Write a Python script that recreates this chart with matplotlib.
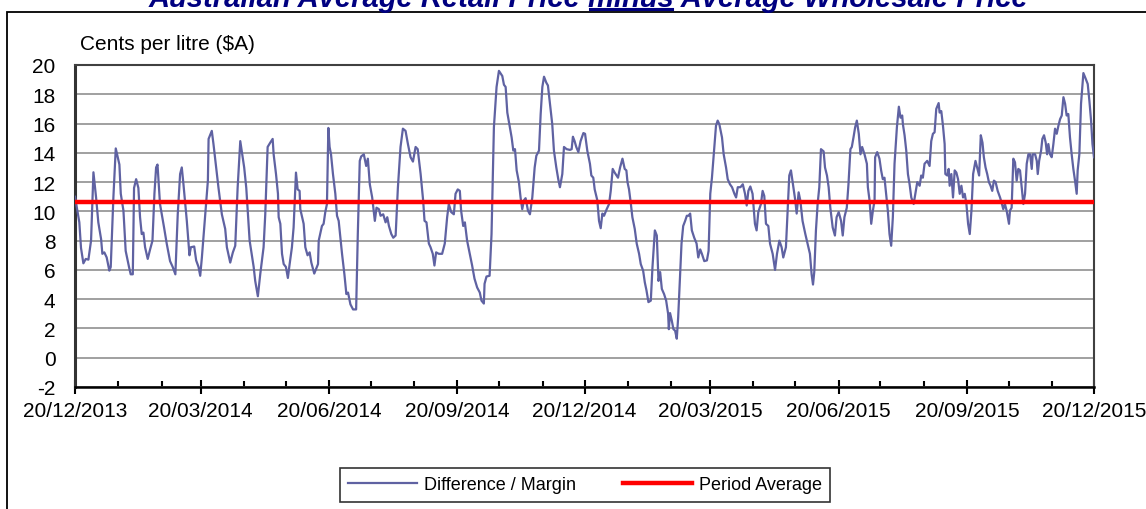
import numpy as np
import matplotlib
matplotlib.use("Agg")
import matplotlib.pyplot as plt
import matplotlib.dates as mdates
from matplotlib.lines import Line2D
from matplotlib.patches import Rectangle
import datetime as dt

plt.rcParams['font.family'] = ['Liberation Sans', 'DejaVu Sans']
plt.rcParams['axes.unicode_minus'] = False

# ---------------- data ----------------
start_date = "2013-12-20"
end_date = "2015-12-20"
day_offset = [
    0, 3.1, 4.3, 6.0, 7.7, 9.6, 11.5, 13.2, 15.1, 16.7, 18.7, 19.6, 21.0, 22.7, 24.6, 25.6, 27.5, 29.2,
    31.8, 32.8, 34.7, 36.3, 38.7, 39.9, 41.4, 42.3, 43.8, 45.4, 46.6, 47.8, 49.0, 50.2, 52.1, 53.8,
    55.5, 56.9, 58.1, 59.1, 60.9, 63.8, 65.7, 68.1, 70.0, 71.9, 73.6, 75.3, 76.5, 77.7, 80.1, 82.0,
    83.0, 85.4, 86.8, 88.5, 89.7, 90.9, 93.3, 95.2, 95.7, 98.0, 99.2, 100.9, 102.8, 105.2, 107.6,
    108.8, 111.2, 113.1, 114.8, 116.5, 118.4,
    121.2, 122.7, 125.1, 128.0, 129.1, 131.0, 132.7, 135.1, 136.3, 138.0, 139.9, 141.6, 142.3, 144.0,
    145.4, 145.9, 147.1, 148.3, 149.5, 151.1, 152.5, 153.7, 155.4, 156.6, 158.3, 159.5, 160.9, 161.4,
    163.8, 165.0, 166.6, 168.1, 169.3, 171.4, 174.1, 174.6, 176.9, 178.1, 179.3, 180.5, 181.5, 182.4,
    183.4, 184.8, 186.5, 187.7, 188.9, 191.3, 193.0, 194.4, 195.6, 197.3, 199.2, 201.4, 202.6, 204.0,
    205.0, 206.9, 208.6, 209.8, 211.2, 212.9, 214.8, 216.0, 217.7, 218.9, 220.8, 222.5, 223.7, 224.9,
    226.6, 228.0, 229.7, 231.3, 233.2, 234.9, 236.8, 238.5, 240.4, 242.1, 244.0, 245.5, 247.6,
    249.4, 250.4, 251.8, 253.5, 254.7, 256.3, 257.5, 258.7, 260.6, 263.0, 264.9, 266.6, 267.8, 269.5,
    271.4, 272.6, 274.2, 275.7, 276.6, 278.1, 279.3, 280.9, 282.8, 284.5, 286.2, 288.1, 290.0, 291.2,
    292.9, 293.4, 294.8, 297.0, 298.4, 300.1, 302.0, 303.7, 306.1, 307.3, 308.5, 309.7, 311.3, 312.8,
    314.0, 315.2, 316.4, 318.0, 319.2, 320.4, 321.6, 322.8, 324.5, 325.9, 327.6, 329.3, 330.5, 332.4,
    333.6, 334.8, 336.0, 337.6, 338.8, 340.3, 341.9, 343.1, 344.8, 346.2, 347.4, 349.1, 350.3, 352.2,
    354.6, 355.8, 356.7, 357.9, 359.1, 360.6, 362.2, 364.2, 365.4,
    367.0, 368.9, 369.9, 371.3, 372.3, 374.2, 375.4, 376.6, 377.8, 379.0, 380.9, 382.6, 383.8, 385.2,
    386.6, 389.0, 390.5, 392.2, 393.8, 395.0, 395.8, 396.9, 398.1, 399.3, 401.0, 402.4, 404.1, 405.3,
    407.0, 408.2, 409.4, 410.8, 412.5, 413.7, 415.4, 416.8, 418.0, 419.2, 420.4, 422.0, 423.5, 424.9,
    425.4, 426.3, 427.5, 428.7, 429.9, 431.1, 432.1, 433.3, 434.5, 435.7, 437.1, 438.3, 439.5, 440.7,
    441.9, 443.6, 445.3, 446.5, 447.9, 449.1, 450.8, 452.7, 453.9, 455.1, 456.3, 458.0, 459.2, 460.4,
    461.6, 463.5, 464.7, 466.4, 467.6, 469.2, 470.7, 472.4, 473.6, 474.8, 476.7, 478.4, 480.0, 481.2,
    482.4, 483.8,
    485.4, 487.1, 488.3, 489.5, 491.4, 492.6, 493.8, 495.0, 496.7, 497.9, 499.8, 501.5, 502.9, 504.6,
    506.2, 507.4, 509.3, 510.5, 511.7, 512.9, 514.6, 516.0, 517.0, 518.4, 519.6, 521.2, 523.2, 524.8,
    526.5, 527.7, 528.7, 529.6, 530.8, 532.0, 533.2, 534.4, 536.3, 537.3, 538.7, 539.9, 541.1, 542.8,
    544.4, 545.6, 547.1, 548.8, 550.0, 551.2, 552.9, 554.1, 555.5, 556.5, 557.7, 558.9, 560.1, 561.5,
    562.7, 563.9, 565.6, 567.3, 568.0, 569.2, 570.4, 571.6, 572.8, 573.2, 574.7, 576.3, 577.5, 578.7,
    579.9, 581.1, 582.3, 583.5, 584.7, 585.9, 587.1, 588.8, 590.2, 591.4, 592.6, 593.1, 594.3, 595.5,
    596.7, 597.9, 599.1, 600.8, 602.0, 603.4, 605.1,
    606.2, 607.4, 608.6, 610.5, 612.2, 613.4, 614.6, 615.8, 617.0, 618.7, 619.4, 620.6, 621.8, 623.0,
    623.5, 624.9, 625.9, 626.6, 627.8, 629.0, 630.2, 631.4, 632.6, 633.8, 635.0, 636.2, 637.4, 638.6,
    639.8, 641.0, 642.2, 643.4, 645.1, 646.5, 647.7, 648.9, 650.1, 651.1, 652.3, 653.5, 654.7, 655.9,
    657.1, 658.3, 659.5, 661.0, 662.7, 663.8, 665.0, 666.2, 667.4, 669.1, 669.8, 671.0, 672.2, 673.4,
    674.6, 675.8, 677.0, 678.2, 679.4, 680.6, 681.8, 683.0, 684.2, 685.4, 686.1, 687.8, 689.0, 689.7,
    690.7, 692.1, 693.0, 694.2, 695.4, 696.4, 697.3, 698.5, 699.7, 700.9, 702.1, 703.3, 704.5, 705.7,
    706.9, 708.1, 709.3, 710.4, 711.6, 712.8, 714.0, 715.2, 716.4, 717.6, 718.3, 719.5, 720.7, 722.4,
    724.1, 725.5, 726.7, 727.9, 728.9, 730.0,
]
margin = [
    11.0, 9.25, 7.5, 6.45, 6.75, 6.7, 8.0, 12.67, 10.95, 9.25, 8.1, 7.1, 7.2, 6.85, 5.95, 6.2, 10.95, 14.3,
    13.2, 11.2, 10.05, 7.3, 6.2, 5.7, 5.7, 11.6, 12.2, 11.6, 9.6, 8.45, 8.55, 7.55, 6.75, 7.4,
    8.0, 11.2, 13.0, 13.2, 10.5, 8.9, 7.8, 6.6, 6.2, 5.7, 9.8, 12.55, 13.0, 11.85, 9.35, 7.0,
    7.55, 7.6, 6.65, 6.2, 5.6, 6.85, 9.8, 12.1, 14.95, 15.5, 14.6, 13.2, 11.6, 9.8, 8.8,
    7.55, 6.5, 7.2, 7.65, 11.6, 14.8,
    13.0, 11.6, 8.0, 6.2, 5.25, 4.2, 5.7, 7.55, 9.8, 14.4, 14.7, 14.95, 13.9, 12.55,
    11.2, 9.6, 9.15, 7.1, 6.4, 6.2, 5.45, 6.35, 7.55, 8.9, 12.65, 11.5, 11.4, 10.15,
    9.15, 7.55, 7.0, 7.2, 6.5, 5.75, 6.4, 8.0, 9.0, 9.15, 9.95, 10.5, 15.7, 14.4,
    13.9, 12.55, 11.2, 9.7, 9.35, 7.1, 5.7, 4.35, 4.45, 3.65, 3.3, 3.3, 8.45, 13.45,
    13.75, 13.9, 13.1, 13.6, 11.85, 10.95, 9.35, 10.25, 10.15, 9.7, 9.8, 9.25, 9.6, 9.0,
    8.45, 8.2, 8.35, 11.6, 14.4, 15.65, 15.5, 14.6, 13.7, 13.4, 14.4, 14.25, 12.55,
    10.75, 9.35, 9.25, 7.8, 7.55, 7.1, 6.3, 7.2, 7.1, 7.1, 7.8, 9.6, 10.5, 9.95,
    9.8, 11.2, 11.5, 11.4, 10.05, 9.0, 9.25, 8.0, 7.1, 6.3, 5.4, 4.8, 4.45, 3.9,
    3.7, 5.05, 5.55, 5.6, 8.45, 15.75, 18.5, 19.6, 19.25, 18.65, 18.5, 16.75, 15.85, 15.05,
    14.15, 14.25, 12.8, 12.0, 10.95, 10.15, 10.75, 10.9, 10.05, 9.8, 10.95, 13.0, 13.8, 14.15,
    16.65, 18.5, 19.2, 18.8, 18.6, 17.35, 15.95, 14.15, 13.0, 12.2, 11.65, 12.55, 14.4, 14.25,
    14.2, 14.25, 15.1, 14.8, 14.4, 14.05, 14.8, 15.35, 15.3,
    14.15, 13.25, 12.45, 12.3, 11.5, 10.75, 9.35, 8.85, 9.85, 9.7, 10.15, 10.5, 11.4, 12.9,
    12.65, 12.3, 13.0, 13.6, 12.9, 12.8, 12.0, 11.5, 10.6, 9.6, 8.8, 7.8, 7.1, 6.4,
    5.95, 5.15, 4.6, 3.8, 3.9, 6.2, 8.7, 8.35, 5.25, 5.85, 4.7, 4.35, 3.9, 3.0,
    1.95, 3.05, 2.55, 1.95, 1.85, 1.3, 2.75, 5.25, 7.8, 9.0, 9.35, 9.7, 9.7, 9.85,
    8.7, 8.2, 7.8, 6.85, 7.4, 7.1, 6.6, 6.65, 7.3, 11.2, 12.3, 14.4, 15.85, 16.2,
    15.95, 15.05, 13.9, 13.0, 12.2, 11.85, 11.65, 11.2, 10.95, 11.65, 11.65, 11.85, 11.2, 10.4,
    11.4, 11.7,
    11.2, 9.15, 8.7, 9.95, 10.5, 11.4, 11.05, 9.15, 9.0, 7.8, 7.1, 6.0, 7.1, 8.0,
    7.55, 6.85, 7.55, 10.05, 12.45, 12.8, 11.65, 10.75, 9.85, 11.3, 10.75, 9.35, 8.45, 7.8,
    7.1, 5.7, 5.0, 5.85, 8.7, 10.5, 11.65, 14.25, 14.1, 13.0, 12.45, 11.65, 10.25, 8.9,
    8.35, 9.6, 9.95, 9.35, 8.35, 9.6, 10.25, 11.85, 14.25, 14.4, 15.05, 15.75, 16.2, 15.3,
    13.9, 14.4, 13.9, 13.25, 11.65, 10.75, 9.15, 10.05, 10.75, 13.7, 14.05, 13.6, 12.8, 12.2,
    12.3, 11.2, 10.05, 8.45, 7.65, 9.6, 13.25, 15.75, 17.15, 16.4, 16.55, 15.95, 15.2, 14.15,
    12.55, 11.85, 10.95, 10.5, 11.2, 12.0, 11.75,
    12.45, 12.3, 13.25, 13.45, 13.1, 14.8, 15.3, 15.4, 17.0, 17.4, 16.75, 16.85, 15.85, 14.6,
    12.55, 12.45, 12.9, 11.75, 12.55, 10.95, 12.8, 12.65, 12.2, 11.2, 11.75, 10.95, 11.2, 10.5,
    9.15, 8.45, 10.05, 12.55, 13.45, 12.9, 12.45, 15.2, 14.7, 13.7, 13.0, 12.55, 12.0, 11.75,
    11.4, 12.1, 12.0, 11.4, 10.95, 10.6, 10.15, 10.5, 10.05, 9.15, 10.05, 10.25, 13.6, 13.35,
    12.1, 12.9, 12.8, 11.65, 10.5, 11.2, 13.25, 13.9, 13.9, 12.9, 13.9, 13.9, 13.45, 12.55,
    13.45, 14.15, 14.95, 15.2, 14.7, 13.9, 14.6, 13.9, 13.7, 14.6, 15.65, 15.3, 15.85, 16.3,
    16.55, 17.8, 17.35, 16.55, 16.65, 15.05, 13.9, 12.9, 12.1, 11.2, 12.8, 13.9, 17.35, 19.45,
    19.05, 18.7, 17.55, 16.2, 14.6, 13.7,
]
period_average = 10.65
y_ticks = [-2, 0, 2, 4, 6, 8, 10, 12, 14, 16, 18, 20]
title_before = "Australian Average Retail Price "
title_under = "minus"
title_after = " Average Wholesale Price"
y_label = "Cents per litre ($A)"
series_names = ["Difference / Margin", "Period Average"]

# ---------------- figure ----------------
W, H = 1146, 510
fig = plt.figure(figsize=(W / 100, H / 100), dpi=100)
ax = fig.add_axes([75 / W, 1 - 388 / H, (1094 - 75) / W, (388 - 66) / H])

base = mdates.date2num(dt.datetime.strptime(start_date, "%Y-%m-%d"))
end = mdates.date2num(dt.datetime.strptime(end_date, "%Y-%m-%d"))
xs = base + np.array(day_offset)

line_color = "#5F62A2"
ax.plot(xs, margin, color=line_color, lw=1.6, zorder=3, label=series_names[0])
ax.axhline(period_average, color="#FF0000", lw=3.2, zorder=4, label=series_names[1])

ax.set_xlim(base, end)
ax.set_ylim(-2, 20)
ax.set_yticks(y_ticks)
ax.yaxis.grid(True, color="#999999", lw=1.3)
ax.set_axisbelow(True)
ax.tick_params(axis='y', length=0, pad=14, labelsize=15)

ax.xaxis.set_major_locator(mdates.MonthLocator(bymonth=[3, 6, 9, 12], bymonthday=20))
ax.xaxis.set_minor_locator(mdates.MonthLocator(bymonthday=20))
ax.xaxis.set_major_formatter(mdates.DateFormatter('%d/%m/%Y'))
ax.tick_params(axis='x', which='major', direction='inout', length=10, width=1.5,
               labelsize=15, pad=5)
ax.tick_params(axis='x', which='minor', direction='in', length=4, width=1.5)

for s in ['top', 'right']:
    ax.spines[s].set_color("#404040")
    ax.spines[s].set_linewidth(1.5)
ax.spines['left'].set_color("#333333")
ax.spines['left'].set_linewidth(2.2)
ax.spines['bottom'].set_color("#000000")
ax.spines['bottom'].set_linewidth(1.8)

fig.text(80 / W, 1 - 45 / H, y_label, fontsize=15, va='center', ha='left')

# outer chart border
fig.add_artist(Rectangle((7 / W, -0.1), 1.2, 1.1 - 12.5 / H, transform=fig.transFigure,
                         fill=False, edgecolor='black', lw=1.3))

# title (cut at the top, as in the reference) with underlined word
tkw = dict(fontsize=21, fontweight='bold', style='italic', color='#000080', va='baseline')
renderer = fig.canvas.get_renderer()
def text_width(s):
    t = fig.text(0, 0, s, **tkw)
    w = t.get_window_extent(renderer).width
    t.remove()
    return w
full = title_before + title_under + title_after
wf = text_width(full)
wb = text_width(title_before + title_under.rstrip())
wbefore = text_width(title_before.rstrip() + " ")
cx = 588
x0 = cx - wf / 2
ty = 1 - 7 / H
fig.text(x0 / W, ty, full, ha='left', **tkw)
u0 = x0 + wbefore + 2
u1 = x0 + wb - 2
fig.add_artist(Line2D([u0 / W, u1 / W], [1 - 10 / H, 1 - 10 / H], transform=fig.transFigure,
                      color='#000080', lw=2.2))

# legend
handles = [Line2D([], [], color=line_color, lw=1.6), Line2D([], [], color='#FF0000', lw=3.2)]
leg = fig.legend(handles, series_names, loc='center', bbox_to_anchor=(585 / W, 1 - 486 / H),
                 ncol=2, fontsize=13, frameon=True, fancybox=False, edgecolor='black',
                 handlelength=3.8, columnspacing=2.6, borderpad=0.45, handletextpad=0.4,
                 borderaxespad=0)
leg.get_frame().set_linewidth(1.2)
leg._legend_box.align = "center"
leg.get_frame().set_boxstyle("square", pad=0.0)

fig.savefig("out.png", dpi=100)
